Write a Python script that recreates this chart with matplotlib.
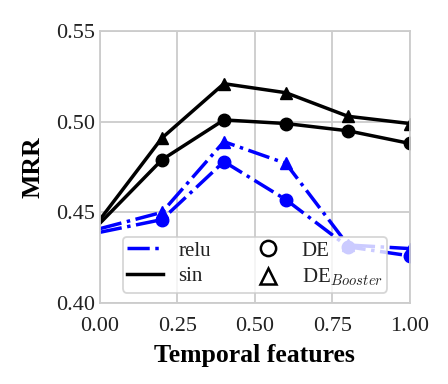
import matplotlib
matplotlib.use('Agg')
import matplotlib.pyplot as plt
from matplotlib.lines import Line2D

# temporal feature ratio on x
features = [0.0, 0.2, 0.4, 0.6, 0.8, 1.0]

relu_de = [0.439, 0.446, 0.478, 0.457, 0.431, 0.426]
relu_booster = [0.441, 0.450, 0.489, 0.477, 0.432, 0.430]
sin_de = [0.444, 0.479, 0.501, 0.499, 0.495, 0.488]
sin_booster = [0.446, 0.491, 0.521, 0.516, 0.503, 0.499]

xticks = [0.0, 0.25, 0.5, 0.75, 1.0]
yticks = [0.40, 0.45, 0.50, 0.55]


def plot_mrr():
    plt.rcParams['font.family'] = ['Liberation Serif', 'DejaVu Serif']
    plt.rcParams['mathtext.fontset'] = 'cm'
    plt.rcParams['text.color'] = '#222222'
    plt.rcParams['xtick.color'] = '#222222'
    plt.rcParams['ytick.color'] = '#222222'

    fig = plt.figure(figsize=(4.48, 3.84), dpi=100)
    ax = fig.add_axes([0.223, 0.211, 0.692, 0.708])

    mk = slice(1, None)
    ax.plot(features, relu_de, color='blue', linestyle='-.', linewidth=2.5,
            marker='o', markersize=9, markevery=mk)
    ax.plot(features, relu_booster, color='blue', linestyle='-.', linewidth=2.5,
            marker='^', markersize=9, markevery=mk)
    ax.plot(features, sin_de, color='black', linestyle='-', linewidth=2.5,
            marker='o', markersize=9, markevery=mk)
    ax.plot(features, sin_booster, color='black', linestyle='-', linewidth=2.5,
            marker='^', markersize=9, markevery=mk)

    ax.set_xlim(0, 1)
    ax.set_ylim(0.40, 0.55)
    ax.set_xticks(xticks)
    ax.set_yticks(yticks)
    ax.tick_params(labelsize=16, length=0)
    ax.tick_params(axis='x', pad=10)
    ax.tick_params(axis='y', pad=3.5)

    ax.grid(True, color='#cccccc', linewidth=1.3)
    ax.set_axisbelow(True)
    for s in ax.spines.values():
        s.set_color('#cccccc')
        s.set_linewidth(1.3)

    ax.set_xlabel('Temporal features', fontsize=18.5, fontweight='bold', labelpad=6)
    ax.set_ylabel('MRR', fontsize=18.5, fontweight='bold', labelpad=8)

    handles = [
        Line2D([], [], color='blue', linestyle='-.', linewidth=2.5),
        Line2D([], [], color='black', linestyle='-', linewidth=2.5),
        Line2D([], [], color='black', linestyle='none', marker='o',
               markersize=11, markerfacecolor='white', markeredgewidth=1.8),
        Line2D([], [], color='black', linestyle='none', marker='^',
               markersize=11, markerfacecolor='white', markeredgewidth=1.8),
    ]
    labels = ['relu', 'sin', 'DE', r'DE$_{Booster}$']
    leg = ax.legend(handles, labels, loc='lower center', ncol=2, fontsize=15,
                    framealpha=0.8, edgecolor='#cccccc', handlelength=1.7,
                    borderpad=0.2, labelspacing=0.3, columnspacing=1.9,
                    handletextpad=0.75)
    leg.get_frame().set_linewidth(1.3)

    fig.savefig('out.png', dpi=100)


if __name__ == '__main__':
    plot_mrr()
